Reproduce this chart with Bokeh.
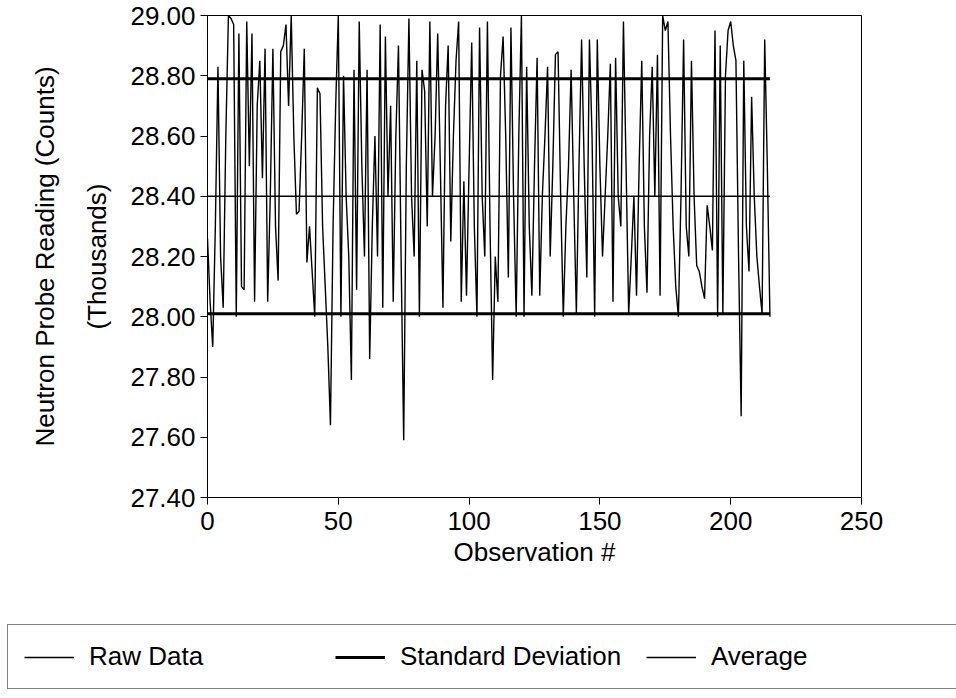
from bokeh.plotting import figure
from bokeh.layouts import column
from bokeh.models import (LinearAxis, FixedTicker, Legend, LegendItem, Range1d,
                          PrintfTickFormatter)
from bokeh.embed import file_html
from bokeh.resources import INLINE

# ---------------- data ----------------
raw_data = [
    28.26, 28.05, 27.90, 28.30, 28.83, 28.20, 28.03, 28.60, 29.00, 28.99,
    28.97, 28.00, 28.94, 28.10, 28.09, 28.98, 28.50, 28.94, 28.05, 28.70,
    28.85, 28.46, 28.89, 28.05, 28.40, 28.89, 28.30, 28.12, 28.88, 28.90,
    28.97, 28.70, 29.00, 28.60, 28.34, 28.35, 28.60, 28.89, 28.18, 28.30,
    28.15, 28.00, 28.76, 28.74, 28.30, 28.10, 27.90, 27.64, 28.30, 28.70,
    29.00, 28.00, 28.80, 28.40, 28.20, 27.79, 28.82, 28.09, 28.98, 28.50,
    28.20, 28.82, 27.86, 28.30, 28.60, 28.20, 28.97, 28.03, 28.93, 28.40,
    28.70, 28.05, 28.60, 28.90, 28.20, 27.59, 28.50, 28.99, 28.40, 28.20,
    28.85, 28.00, 28.82, 28.75, 28.30, 28.98, 28.40, 28.60, 28.94, 28.50,
    28.03, 28.70, 28.90, 28.25, 28.60, 28.85, 28.98, 28.05, 28.45, 28.07,
    28.50, 28.91, 28.30, 28.00, 28.96, 28.40, 28.20, 28.98, 28.30, 27.79,
    28.20, 28.05, 28.80, 28.93, 28.60, 28.13, 28.96, 28.40, 28.00, 28.60,
    29.00, 28.00, 28.83, 28.30, 28.07, 28.50, 28.86, 28.07, 28.40, 28.60,
    28.83, 28.20, 28.50, 28.87, 28.88, 28.40, 28.00, 28.30, 28.50, 28.82,
    28.40, 28.01, 28.50, 28.92, 28.50, 28.13, 28.92, 28.60, 28.00, 28.92,
    28.50, 28.20, 28.40, 28.60, 28.84, 28.05, 28.86, 28.40, 28.30, 28.98,
    28.50, 28.01, 28.20, 28.40, 28.07, 28.50, 28.85, 28.30, 28.08, 28.60,
    28.83, 28.40, 28.87, 28.07, 29.00, 28.95, 28.98, 28.60, 28.30, 28.10,
    28.00, 28.40, 28.92, 28.30, 28.20, 28.85, 28.40, 28.17, 28.15, 28.10,
    28.06, 28.37, 28.30, 28.22, 28.95, 28.00, 28.90, 28.01, 28.80, 28.95,
    28.98, 28.90, 28.85, 28.20, 27.67, 28.85, 28.30, 28.15, 28.73, 28.40,
    28.20, 28.10, 28.01, 28.92, 28.50, 28.00,
]
observation = list(range(len(raw_data)))
average_value = 28.40
sd_upper = 28.79
sd_lower = 28.01
x_ticks = [0, 50, 100, 150, 200, 250]
y_ticks = [27.40, 27.60, 27.80, 28.00, 28.20, 28.40, 28.60, 28.80, 29.00]
legend_labels = ["Raw Data", "Standard Deviation", "Average"]

FONT = "Liberation Sans"
FS = "26px"

RAW_W, SD_W, AVG_W = 1.4, 3, 1.3

line_x = [observation[0], observation[-1]]

p = figure(width=956, height=622, output_backend="svg", toolbar_location=None,
           x_range=Range1d(0, 250), y_range=Range1d(27.40, 29.00),
           min_border_left=207, min_border_right=95, min_border_top=15,
           min_border_bottom=125)
p.frame_align = False
p.grid.visible = False
p.outline_line_color = "black"
p.outline_line_width = 1
p.background_fill_color = "white"
p.border_fill_color = "white"

r_up = p.line(line_x, [sd_upper, sd_upper], line_color="black", line_width=SD_W)
r_lo = p.line(line_x, [sd_lower, sd_lower], line_color="black", line_width=SD_W)
r_avg = p.line(line_x, [average_value, average_value], line_color="black", line_width=AVG_W)
r_raw = p.line(observation, raw_data, line_color="black", line_width=RAW_W)

for ax in (p.xaxis[0], p.yaxis[0]):
    ax.axis_line_color = "black"
    ax.major_tick_line_color = "black"
    ax.major_tick_out = 7
    ax.major_tick_in = 0
    ax.minor_tick_out = 0
    ax.minor_tick_in = 0
    ax.major_label_text_font = FONT
    ax.major_label_text_font_size = FS
    ax.major_label_text_color = "black"
    ax.axis_label_text_font = FONT
    ax.axis_label_text_font_size = FS
    ax.axis_label_text_font_style = "normal"
    ax.axis_label_text_color = "black"

xa = p.xaxis[0]
xa.ticker = FixedTicker(ticks=x_ticks)
xa.major_label_standoff = 7
xa.axis_label = "Observation #"
xa.axis_label_standoff = 4

ya = p.yaxis[0]
ya.ticker = FixedTicker(ticks=y_ticks)
ya.formatter = PrintfTickFormatter(format="%.2f")
ya.major_label_standoff = 5
ya.axis_label = "(Thousands)"
ya.axis_label_standoff = 15

ya2 = LinearAxis(ticker=FixedTicker(ticks=[]), axis_label="Neutron Probe Reading (Counts)",
                 axis_line_color=None, major_tick_line_color=None,
                 minor_tick_line_color=None, major_tick_out=0, minor_tick_out=0,
                 major_tick_in=0, minor_tick_in=0,
                 axis_label_standoff=20, axis_label_text_font=FONT,
                 axis_label_text_font_size=FS, axis_label_text_font_style="normal",
                 axis_label_text_color="black")
p.add_layout(ya2, "left")

# ---------------- legend strip ----------------
# The legend sits in its own strip whose frame covers the whole strip, so the
# box can start at the left edge and run past the right edge like the original.
lg = figure(width=956, height=76, output_backend="svg", toolbar_location=None,
            x_range=Range1d(0, 1), y_range=Range1d(0, 1), min_border=0,
            x_axis_type=None, y_axis_type=None)
lg.frame_align = False
lg.grid.visible = False
lg.outline_line_color = None
lg.background_fill_color = "white"
lg.border_fill_color = "white"
# same series as the chart; they fall outside this strip's ranges, only the
# legend swatches are seen
l_raw = lg.line(observation, raw_data, line_color="black", line_width=RAW_W)
l_sd = lg.line(line_x, [sd_upper, sd_upper], line_color="black", line_width=SD_W)
l_avg = lg.line(line_x, [average_value, average_value], line_color="black", line_width=AVG_W)

legend = Legend(items=[LegendItem(label=legend_labels[0], renderers=[l_raw]),
                       LegendItem(label=legend_labels[1], renderers=[l_sd]),
                       LegendItem(label=legend_labels[2], renderers=[l_avg])],
                location=(7, 9), orientation="horizontal",
                glyph_width=50, label_width=246, label_standoff=15, spacing=0,
                padding=16, margin=0, border_line_color="black", border_line_width=1,
                background_fill_color="white", background_fill_alpha=1,
                label_text_font=FONT, label_text_font_size=FS, label_text_color="black")
lg.add_layout(legend)

layout = column(p, lg, spacing=0)
open("out.html", "w").write(file_html(layout, INLINE))
